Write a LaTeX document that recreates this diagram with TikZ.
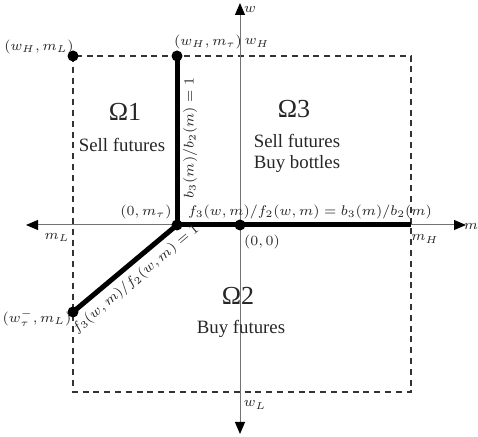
\documentclass[tikz,border=0pt]{standalone}
\usepackage{fontspec}
\setmainfont{Liberation Serif}
\usetikzlibrary{arrows.meta}

\begin{document}
\begin{tikzpicture}[
  x=0.5pt, y=-0.5pt,
  >={Triangle[length=6pt,width=5pt,color=black]},
  every node/.style={text=black!85},
  axis/.style={draw=black!55, line width=0.5pt},
  bound/.style={draw=black!80, dash pattern=on 3pt off 2.4pt, line width=0.75pt},
  border/.style={draw=black, line width=2.5pt},
  dot/.style={circle, fill=black, inner sep=0pt, minimum size=5.5pt},
  region/.style={font=\fontsize{9.4}{10.5}\selectfont, align=center, inner sep=1pt},
  omega/.style={font=\fontsize{13}{14}\selectfont, inner sep=1pt},
  lbl/.style={font=\fontsize{7}{8}\selectfont, inner sep=1pt},
  eqn/.style={font=\fontsize{6.7}{7.5}\selectfont, inner sep=0.5pt}
]
  \useasboundingbox (0,0) rectangle (478,437);

  % feasible box
  \coordinate (tl) at (73,56);
  \coordinate (br) at (411,392);
  \draw[bound] (tl) rectangle (br);

  % axes
  \coordinate (wtop) at (240,3);
  \coordinate (wbot) at (240,434);
  \coordinate (mleft) at (26,225);
  \coordinate (mright) at (466,225);
  \draw[axis,<->] (mleft) -- (mright);
  \draw[axis,<->] (wbot) -- (wtop);

  % switching boundaries
  \node[dot] (O) at (240,225) {};
  \node[dot] (c) at (177,225) {};
  \node[dot] (hc) at (177,56) {};
  \node[dot] (hl) at (73,56) {};
  \node[dot] (tau) at (73,312) {};
  \coordinate (mh) at (411,225);
  \draw[border] (hc.center) -- (c.center) -- (mh);
  \draw[border] (c.center) -- (tau.center);

  % point and axis labels
  \node[lbl] (lhl) at (39,47) {$(w_H, m_L)$};
  \node[lbl] (lhc) at (208,42) {$(w_H, m_\tau)$};
  \node[lbl] (lwh) at (257,43) {$w_H$};
  \node[lbl] (lw) at (250,9) {$w$};
  \node[lbl] (lwl) at (255,405) {$w_L$};
  \node[lbl] (lml) at (57,237) {$m_L$};
  \node[lbl] (lmh) at (425,239) {$m_H$};
  \node[lbl] (lm) at (471,226) {$m$};
  \node[lbl] (lc) at (146,212) {$(0, m_\tau)$};
  \node[lbl] (lO) at (262,242) {$(0, 0)$};
  \node[lbl] (ltau) at (37,318) {$(w_\tau^-, m_L)$};

  % boundary equations
  \node[eqn] (eqh) at (310,212) {$f_3(w, m)/f_2(w, m) = b_3(m)/b_2(m)$};
  \node[eqn, rotate=90] (eqv) at (190,138) {$b_3(m)/b_2(m) = 1$};
  \node[eqn, rotate=40] (eqd) at (136,279) {$f_3(w, m)/f_2(w, m) = 1$};

  % regions
  \node[omega] (om1) at (125,112) {Ω1};
  \node[region] (act1) at (122,145) {Sell futures};
  \node[omega] (om3) at (294,109) {Ω3};
  \node[region] (act3) at (297,153) {Sell futures\\Buy bottles};
  \node[omega] (om2) at (238,296) {Ω2};
  \node[region] (act2) at (241,329) {Buy futures};
\end{tikzpicture}
\end{document}
